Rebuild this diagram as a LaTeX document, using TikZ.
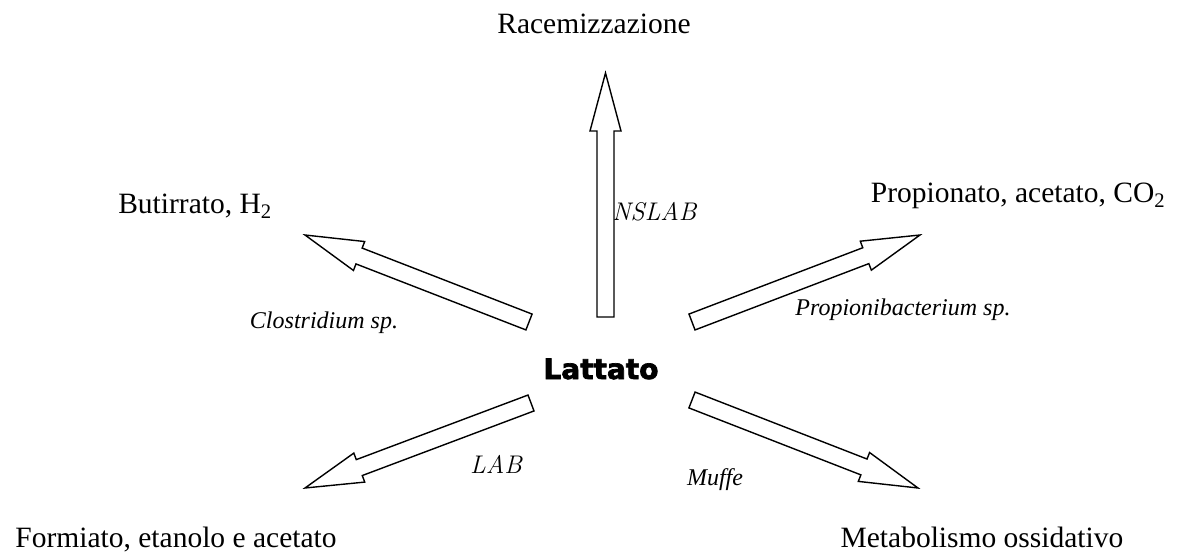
\documentclass[tikz,border=0pt]{standalone}
\usepackage{fontspec}
\usetikzlibrary{calc}
\newfontfamily\tnr{Liberation Serif}
\newfontfamily\djvb[FakeBold=2.5]{DejaVu Sans Bold}
\tikzset{
  big/.style={font=\tnr\fontsize{29.5}{34}\selectfont, anchor=base, inner sep=0pt},
  lbl/.style={font=\tnr\itshape\fontsize{24}{28}\selectfont, anchor=base, inner sep=0pt},
  cmlbl/.style={font=\itshape\fontsize{25.5}{30}\selectfont, anchor=base, inner sep=0pt},
  blockarrow/.style={draw=black, line width=1.4pt, fill=white, line join=miter}
}
\newcommand{\blockarr}[2]{%
  \draw[blockarrow] ($(#1)!8.5pt!90:(#2)$) -- ($($(#2)!58pt!(#1)$)!8.5pt!-90:(#1)$)
    -- ($($(#2)!58pt!(#1)$)!15.5pt!-90:(#1)$) -- (#2)
    -- ($($(#2)!58pt!(#1)$)!15.5pt!90:(#1)$) -- ($($(#2)!58pt!(#1)$)!8.5pt!90:(#1)$)
    -- ($(#1)!8.5pt!-90:(#2)$) -- cycle;}
\begin{document}
\begin{tikzpicture}[x=1pt,y=-1pt]
\useasboundingbox (0,0) rectangle (1184,554);
% text nodes
\node[big] (rac) at (594,33) {Racemizzazione};
\node[big] (but) at (195,213) {Butirrato, H\textsubscript{2}};
\node[big] (pro) at (1018,202) {Propionato, acetato, CO\textsubscript{2}};
\node[big] (for) at (176,547) {Formiato, etanolo e acetato};
\node[big] (met) at (982,547) {Metabolismo ossidativo};
\node[font=\djvb\fontsize{28}{32}\selectfont, anchor=base, inner sep=0pt] (lat) at (601,379) {Lattato};
\node[cmlbl, anchor=base west] (nslab) at (612,220) {NSLAB};
\node[lbl] (clo) at (324,328) {Clostridium sp.};
\node[lbl] (pb) at (903,315) {Propionibacterium sp.};
\node[cmlbl] (lab) at (496,473) {LAB};
\node[lbl] (muf) at (715,485) {Muffe};
% arrow end points
\coordinate (tU) at (605.5,317); \coordinate (pU) at (605.5,73);
\coordinate (tUL) at (529,322); \coordinate (pUL) at (305,235);
\coordinate (tUR) at (692,322); \coordinate (pUR) at (920,235);
\coordinate (tLL) at (531,403); \coordinate (pLL) at (305,488);
\coordinate (tLR) at (692,400); \coordinate (pLR) at (918,488);
\blockarr{tU}{pU}
\blockarr{tUL}{pUL}
\blockarr{tUR}{pUR}
\blockarr{tLL}{pLL}
\blockarr{tLR}{pLR}
\end{tikzpicture}
\end{document}
